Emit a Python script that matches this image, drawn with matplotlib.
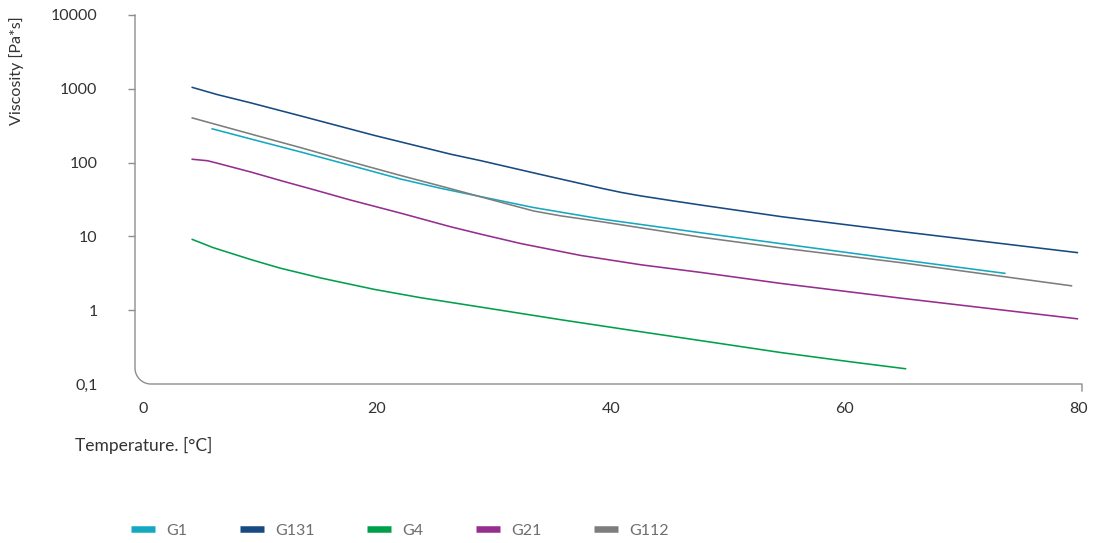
import numpy as np
import matplotlib
matplotlib.use("Agg")
import matplotlib.pyplot as plt
from matplotlib.lines import Line2D
from matplotlib.ticker import FixedLocator, FixedFormatter, NullLocator

plt.rcParams['font.family'] = ['Lato', 'DejaVu Sans']

# Viscosity [Pa*s] vs temperature [°C] for each grade
temp_g1 = [5.9, 9.2, 13.5, 17.7, 22.0, 25.4, 28.6, 33.4, 39.2, 47.7, 54.6, 64.9, 73.7]
visc_g1 = [287, 209, 139, 92, 60, 45, 35.3, 24.6, 17.2, 11.2, 7.95, 4.81, 3.16]

temp_g131 = [4.2, 6.3, 9.2, 13.5, 19.8, 26.3, 28.9, 34.0, 39.2, 40.9, 42.6,
             45.2, 47.7, 54.6, 64.9, 79.9]
visc_g131 = [1045, 838, 645, 428, 233, 130, 106, 69, 44.9, 39.4, 35.3,
             30.5, 26.6, 18.5, 11.6, 6.03]

temp_g4 = [4.2, 6.0, 9.2, 11.7, 15.2, 19.8, 23.7, 28.9, 35.7, 41.7, 47.7,
           54.6, 60.6, 65.2]
visc_g4 = [9.1, 7.03, 4.86, 3.72, 2.73, 1.91, 1.48, 1.10, 0.744, 0.535,
           0.387, 0.266, 0.199, 0.161]

temp_g21 = [4.2, 5.5, 6.3, 9.2, 12.0, 14.6, 17.7, 22.0, 26.3, 28.9, 32.3,
            37.4, 42.6, 47.7, 54.6, 64.9, 79.9]
visc_g21 = [111, 106, 98.5, 74.6, 55.7, 42.9, 31.2, 20.7, 13.5, 10.7, 8.0,
            5.53, 4.12, 3.25, 2.30, 1.45, 0.765]

temp_g112 = [4.2, 9.2, 13.5, 17.7, 22.0, 26.0, 28.6, 31.0, 33.4, 35.7, 39.2,
             47.7, 54.6, 64.9, 79.4]
visc_g112 = [403, 244, 159, 103, 67, 45.6, 35.3, 27.9, 22.1, 19.0, 15.8,
             9.77, 6.97, 4.39, 2.14]

series_names = ["G1", "G131", "G4", "G21", "G112"]
series_colors = ["#14a9c0", "#174a80", "#00a04b", "#952e8f", "#7c7e7e"]

y_ticks = [0.1, 1, 10, 100, 1000, 10000]
y_tick_labels = ["0,1", "1", "10", "100", "1000", "10000"]
x_ticks = [0, 20, 40, 60, 80]

W, H = 1093, 543
fig = plt.figure(figsize=(W / 100, H / 100), dpi=100)
ax_l, ax_r, ax_t, ax_b = 135, 1082, 15, 384
ax = fig.add_axes([ax_l / W, 1 - ax_b / H, (ax_r - ax_l) / W, (ax_b - ax_t) / H])

series = [
    (temp_g1, visc_g1),
    (temp_g131, visc_g131),
    (temp_g4, visc_g4),
    (temp_g21, visc_g21),
    (temp_g112, visc_g112),
]
for (t, v), name, col in zip(series, series_names, series_colors):
    ax.plot(t, v, color=col, lw=1.15, label=name, solid_joinstyle='round')

ax.set_yscale('log')
ax.set_ylim(0.1, 10000)
ax.set_xlim(-0.7, 80.3)

ax.yaxis.set_major_locator(FixedLocator(y_ticks))
ax.yaxis.set_major_formatter(FixedFormatter(y_tick_labels))
ax.yaxis.set_minor_locator(NullLocator())
ax.set_xticks(x_ticks)
ax.xaxis.set_minor_locator(NullLocator())

spine_col = "#8e8e8e"
ax.tick_params(axis='y', length=5, width=1.0, color=spine_col, pad=22,
               labelsize=11.5, labelcolor="#333333")
ax.tick_params(axis='x', length=0, pad=13, labelsize=11.5, labelcolor="#333333")
# no tick mark at the 0,1 corner
ax.yaxis.get_major_ticks()[0].tick1line.set_visible(False)

for s in ax.spines.values():
    s.set_visible(False)

# frame with a rounded lower-left corner and an end tick on the right
w_px, h_px = ax_r - ax_l, ax_b - ax_t
rad = 16
rx, ry = rad / w_px, rad / h_px
th = np.linspace(0, np.pi / 2, 30)
arc_x = rx - rx * np.cos(th)
arc_y = ry - ry * np.sin(th)
fx = np.concatenate([[0], arc_x, [1, 1]])
fy = np.concatenate([[1], arc_y, [0, -7 / h_px]])
ax.add_line(Line2D(fx, fy, transform=ax.transAxes, color=spine_col, lw=1.0,
                   clip_on=False, solid_joinstyle='round'))

fig.text(17 / W, 1 - 71 / H, "Viscosity [Pa*s]", rotation=90, ha='center',
         va='center', fontsize=11.5, color="#333333")
fig.text(75 / W, 1 - 445 / H, "Temperature. [°C]", ha='left', va='center',
         fontsize=12.5, color="#333333")

handles = [Line2D([], [], color=c, lw=4.7, solid_capstyle='butt')
           for c in series_colors]
leg = fig.legend(handles, series_names, loc='center left',
                 bbox_to_anchor=(131 / W, 1 - 531 / H), ncol=5, frameon=False,
                 fontsize=11.5, handlelength=1.5, handletextpad=0.7,
                 columnspacing=3.3, borderpad=0, borderaxespad=0)
for txt in leg.get_texts():
    txt.set_color("#6e6e6e")

fig.savefig("out.png", dpi=100)
